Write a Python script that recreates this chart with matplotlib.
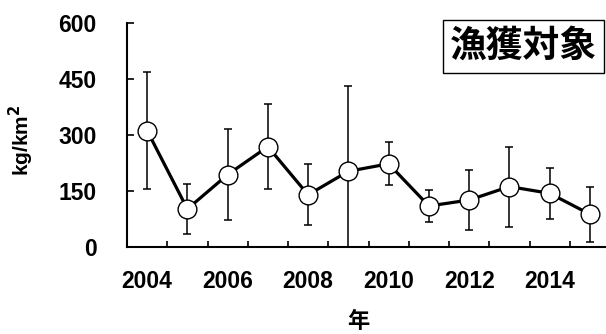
import matplotlib
matplotlib.use('Agg')
from matplotlib import pyplot as plt
from matplotlib.patches import Rectangle
from matplotlib.ticker import FixedLocator

# データ
years = [2004, 2005, 2006, 2007, 2008, 2009, 2010, 2011, 2012, 2013, 2014, 2015]
mean = [311, 101, 193, 268, 139, 202, 222, 109, 125, 161, 143, 87]
sd = [156, 68, 121, 113, 82, 228, 58, 44, 81, 107, 69, 74]
label_years = [2004, 2006, 2008, 2010, 2012, 2014]
y_ticks = [0, 150, 300, 450, 600]

num_font = ['Liberation Sans', 'DejaVu Sans']
jp_font = ['Noto Sans CJK JP', 'DejaVu Sans']

fig = plt.figure(figsize=(6.06, 3.34), dpi=100)
ax = fig.add_axes([127 / 606, 87.3 / 334, 483 / 606, 224 / 334])

ax.errorbar(years, mean, yerr=sd, fmt='none', ecolor='black',
            elinewidth=1.1, capsize=2.6, capthick=1.1, zorder=2)
ax.plot(years, mean, color='black', linewidth=2.3, marker='o',
        markersize=13.5, markerfacecolor='white', markeredgecolor='black',
        markeredgewidth=1.0, zorder=3)

ax.set_xlim(2003.5, 2015.5)
ax.set_ylim(0, 600)

# 目盛り
ax.set_xticks(label_years)
ax.set_xticklabels([str(y) for y in label_years], fontfamily=num_font,
                   fontweight='bold', fontsize=16.5)
ax.xaxis.set_minor_locator(FixedLocator([y + 0.5 for y in range(2003, 2016)]))
ax.tick_params(axis='x', which='major', length=0, pad=17)
ax.tick_params(axis='x', which='minor', direction='in', length=4, width=1.2)

ax.set_yticks(y_ticks)
ax.set_yticklabels([str(v) for v in y_ticks], fontfamily=num_font,
                   fontweight='bold', fontsize=16.5)
ax.tick_params(axis='y', direction='in', length=5, width=1.2, pad=22)

for s in ['top', 'right']:
    ax.spines[s].set_visible(False)
ax.spines['left'].set_linewidth(1.5)
ax.spines['bottom'].set_linewidth(1.5)

# 軸ラベル
fig.text(21 / 606, (334 - 140) / 334, 'kg/km$^{\\mathbf{2}}$', rotation=90,
         ha='center', va='center', fontfamily=num_font, fontweight='bold',
         fontsize=15)
fig.text(358 / 606, (334 - 322) / 334, '年', ha='center', va='center',
         fontfamily=jp_font, fontweight='bold', fontsize=16)

# 凡例ボックス
fig.patches.append(Rectangle((443 / 606, (334 - 73) / 334), 161 / 606, 53 / 334,
                             transform=fig.transFigure, fill=False,
                             edgecolor='black', linewidth=1.0))
fig.text(523.5 / 606, (334 - 46.5) / 334, '漁獲対象', ha='center', va='center',
         fontfamily=jp_font, fontweight='bold', fontsize=26.5)

plt.savefig('out.png', dpi=100)
